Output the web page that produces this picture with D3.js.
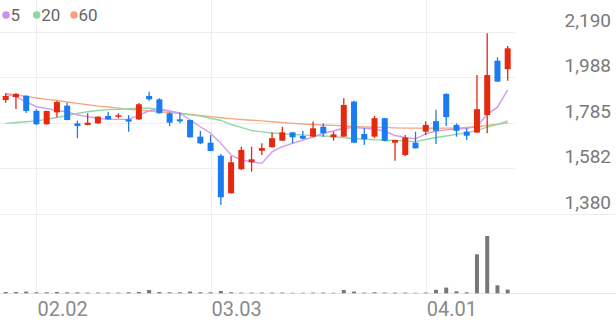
<!DOCTYPE html>
<html>
<head>
<meta charset="utf-8">
<script src="https://cdn.jsdelivr.net/npm/d3@7"></script>
<style>
  body { margin: 0; background: #fff; }
  svg { display: block; font-family: Roboto, "Noto Sans", sans-serif; }
</style>
</head>
<body>
<div id="chart"></div>
<script>
var dates = ["01.28","01.29","01.30","02.02","02.03","02.04","02.05","02.06","02.09","02.10",
             "02.11","02.12","02.13","02.19","02.20","02.23","02.24","02.25","02.26","02.27",
             "03.03","03.04","03.05","03.06","03.09","03.10","03.11","03.12","03.13","03.16",
             "03.17","03.18","03.19","03.20","03.23","03.24","03.25","03.26","03.27","03.30",
             "03.31","04.01","04.02","04.03","04.06","04.07","04.08","04.09","04.10","04.13"];

var open  = [1886,1899,1905,1838,1778,1831,1861,1782,1775,1782,1815,1812,1800,1800,1904,1889,1827,1800,1797,1723,
             1696,1638,1471,1578,1609,1660,1676,1705,1742,1726,1723,1767,1720,1723,1879,1735,1723,1805,1696,1641,
             1696,1745,1792,1913,1775,1745,1741,1819,2061,2023];
var high  = [1916,1917,1906,1845,1838,1883,1874,1794,1827,1813,1834,1827,1819,1873,1923,1894,1831,1830,1798,1748,
             1730,1646,1637,1678,1678,1693,1741,1767,1743,1749,1790,1782,1745,1894,1883,1760,1815,1806,1709,1730,
             1745,1792,1843,1916,1782,1760,1997,2183,2076,2126];
var low   = [1874,1846,1828,1775,1776,1809,1796,1716,1774,1781,1799,1805,1745,1797,1883,1826,1770,1782,1719,1690,
             1658,1419,1470,1574,1567,1641,1675,1704,1693,1713,1720,1723,1705,1722,1695,1686,1716,1701,1616,1637,
             1670,1730,1690,1770,1723,1708,1740,1738,1967,1972];
var close = [1904,1913,1837,1778,1837,1877,1797,1770,1785,1812,1800,1818,1790,1867,1889,1827,1785,1791,1720,1693,
             1659,1453,1609,1664,1622,1672,1716,1742,1720,1714,1760,1738,1733,1864,1696,1711,1805,1704,1708,1719,
             1671,1775,1749,1810,1749,1727,1845,1997,1968,2116];
// volume in thousand shares
var volume = [130,130,170,100,100,130,100,100,70,70,70,70,100,130,330,130,100,100,170,100,
              100,230,100,70,70,70,70,70,50,50,70,70,50,330,170,70,100,70,70,70,
              50,70,350,570,200,100,3900,5730,800,370];

var ma5  = [1911,1901,1878,1856,1849,1838,1834,1819,1812,1805,1800,1800,1800,1819,1838,1846,1837,1827,1797,1767,
            1738,1693,1641,1619,1611,1604,1655,1678,1693,1708,1721,1738,1748,1760,1763,1760,1756,1748,1728,1719,
            1713,1735,1748,1753,1757,1760,1768,1822,1854,1931];
var ma20 = [1782,1786,1789,1793,1800,1808,1817,1826,1834,1839,1843,1845,1847,1849,1849,1844,1836,1827,1820,1815,
            1805,1795,1777,1764,1750,1744,1739,1736,1733,1730,1729,1726,1723,1718,1715,1712,1709,1708,1706,1704,
            1701,1710,1719,1726,1733,1741,1750,1765,1777,1793];
var ma60 = [1915,1908,1902,1895,1889,1884,1877,1871,1865,1859,1855,1850,1845,1841,1837,1834,1830,1827,1822,1817,
            1812,1807,1803,1799,1796,1793,1789,1786,1782,1779,1777,1775,1773,1770,1768,1766,1765,1764,1762,1761,
            1761,1760,1760,1761,1761,1764,1767,1773,1778,1785];

var yTicks = [2190, 1987.5, 1785, 1582.5, 1380];
var yTickLabels = ["2,190", "1,988", "1,785", "1,582", "1,380"];
var xTicks = ["02.02", "03.03", "04.01"];
var legendNames = ["5", "20", "60"];

var width = 616, height = 321;
var upColor = "#e4290f", downColor = "#1a7cf0";
var maColors = ["#d39bef", "#93d8a4", "#f6a883"];
var legendColors = ["#cf8eec", "#8ed7a0", "#f7a17b"];

var svg = d3.select("#chart").append("svg")
    .attr("width", width)
    .attr("height", height);

var x = d3.scalePoint()
    .domain(dates)
    .range([5.7, 507.7]);

var y = d3.scaleLinear()
    .domain([1380, 2190])
    .range([213.7, 31.7]);

var yVol = d3.scaleLinear()
    .domain([0, 6000])
    .range([293.3, 233.3]);

// grid
var grid = svg.append("g");
grid.selectAll(".vgrid")
    .data(xTicks)
  .enter().append("line")
    .attr("x1", function(d) { return Math.round(x(d)) + 0.5; })
    .attr("x2", function(d) { return Math.round(x(d)) + 0.5; })
    .attr("y1", 0)
    .attr("y2", 293)
    .attr("stroke", "#eeeeee");

grid.selectAll(".hgrid")
    .data(yTicks)
  .enter().append("line")
    .attr("x1", 0)
    .attr("x2", function(d, i) { return i == yTicks.length - 1 ? width : 515; })
    .attr("y1", function(d) { return Math.round(y(d)) + 0.5; })
    .attr("y2", function(d) { return Math.round(y(d)) + 0.5; })
    .attr("stroke", "#eeeeee");

svg.append("line")
    .attr("x1", 0).attr("x2", width)
    .attr("y1", 293.5).attr("y2", 293.5)
    .attr("stroke", "#e6e6e6");

// y labels
svg.selectAll(".ylab")
    .data(yTicks)
  .enter().append("text")
    .attr("x", 611)
    .attr("y", function(d) { return y(d) - 5; })
    .attr("text-anchor", "end")
    .attr("fill", "#7a7a7a")
    .style("font-size", "19px")
    .text(function(d, i) { return yTickLabels[i]; });

// x labels
svg.selectAll(".xlab")
    .data(xTicks)
  .enter().append("text")
    .attr("x", function(d) { return x(d) + 1; })
    .attr("y", 316)
    .attr("fill", "#8a8a8a")
    .style("font-size", "20px")
    .text(function(d) { return d; });

// moving averages
[ma60, ma20, ma5].forEach(function(s, k) {
  var line = d3.line()
      .x(function(d, i) { return x(dates[i]); })
      .y(function(d) { return y(d); });
  svg.append("path")
      .datum(s)
      .attr("fill", "none")
      .attr("stroke", maColors[2 - k])
      .attr("stroke-width", 1.4)
      .attr("d", line);
});

// candles
var candle = svg.selectAll(".candle")
    .data(dates)
  .enter().append("g");

candle.append("line")
    .attr("x1", function(d) { return x(d); })
    .attr("x2", function(d) { return x(d); })
    .attr("y1", function(d, i) { return y(high[i]); })
    .attr("y2", function(d, i) { return y(low[i]); })
    .attr("stroke", function(d, i) { return close[i] >= open[i] ? upColor : downColor; })
    .attr("stroke-width", 1.3);

candle.append("rect")
    .attr("x", function(d) { return x(d) - 3; })
    .attr("width", 6)
    .attr("y", function(d, i) { return y(Math.max(open[i], close[i])); })
    .attr("height", function(d, i) { return Math.max(1.5, Math.abs(y(open[i]) - y(close[i]))); })
    .attr("fill", function(d, i) { return close[i] >= open[i] ? upColor : downColor; });

// volume
svg.selectAll(".vol")
    .data(volume)
  .enter().append("rect")
    .attr("x", function(d, i) { return x(dates[i]) - 2; })
    .attr("width", 4)
    .attr("y", function(d) { return yVol(d); })
    .attr("height", function(d) { return yVol(0) - yVol(d); })
    .attr("fill", "#777777");

// legend
var legend = svg.append("g");
var legendX = [6, 36.7, 74];
legendNames.forEach(function(n, i) {
  legend.append("circle")
      .attr("cx", legendX[i])
      .attr("cy", 15)
      .attr("r", 3.8)
      .attr("fill", legendColors[i]);
  legend.append("text")
      .attr("x", legendX[i] + 4.5)
      .attr("y", 21)
      .attr("fill", "#666")
      .style("font-size", "17px")
      .text(n);
});
</script>
</body>
</html>
